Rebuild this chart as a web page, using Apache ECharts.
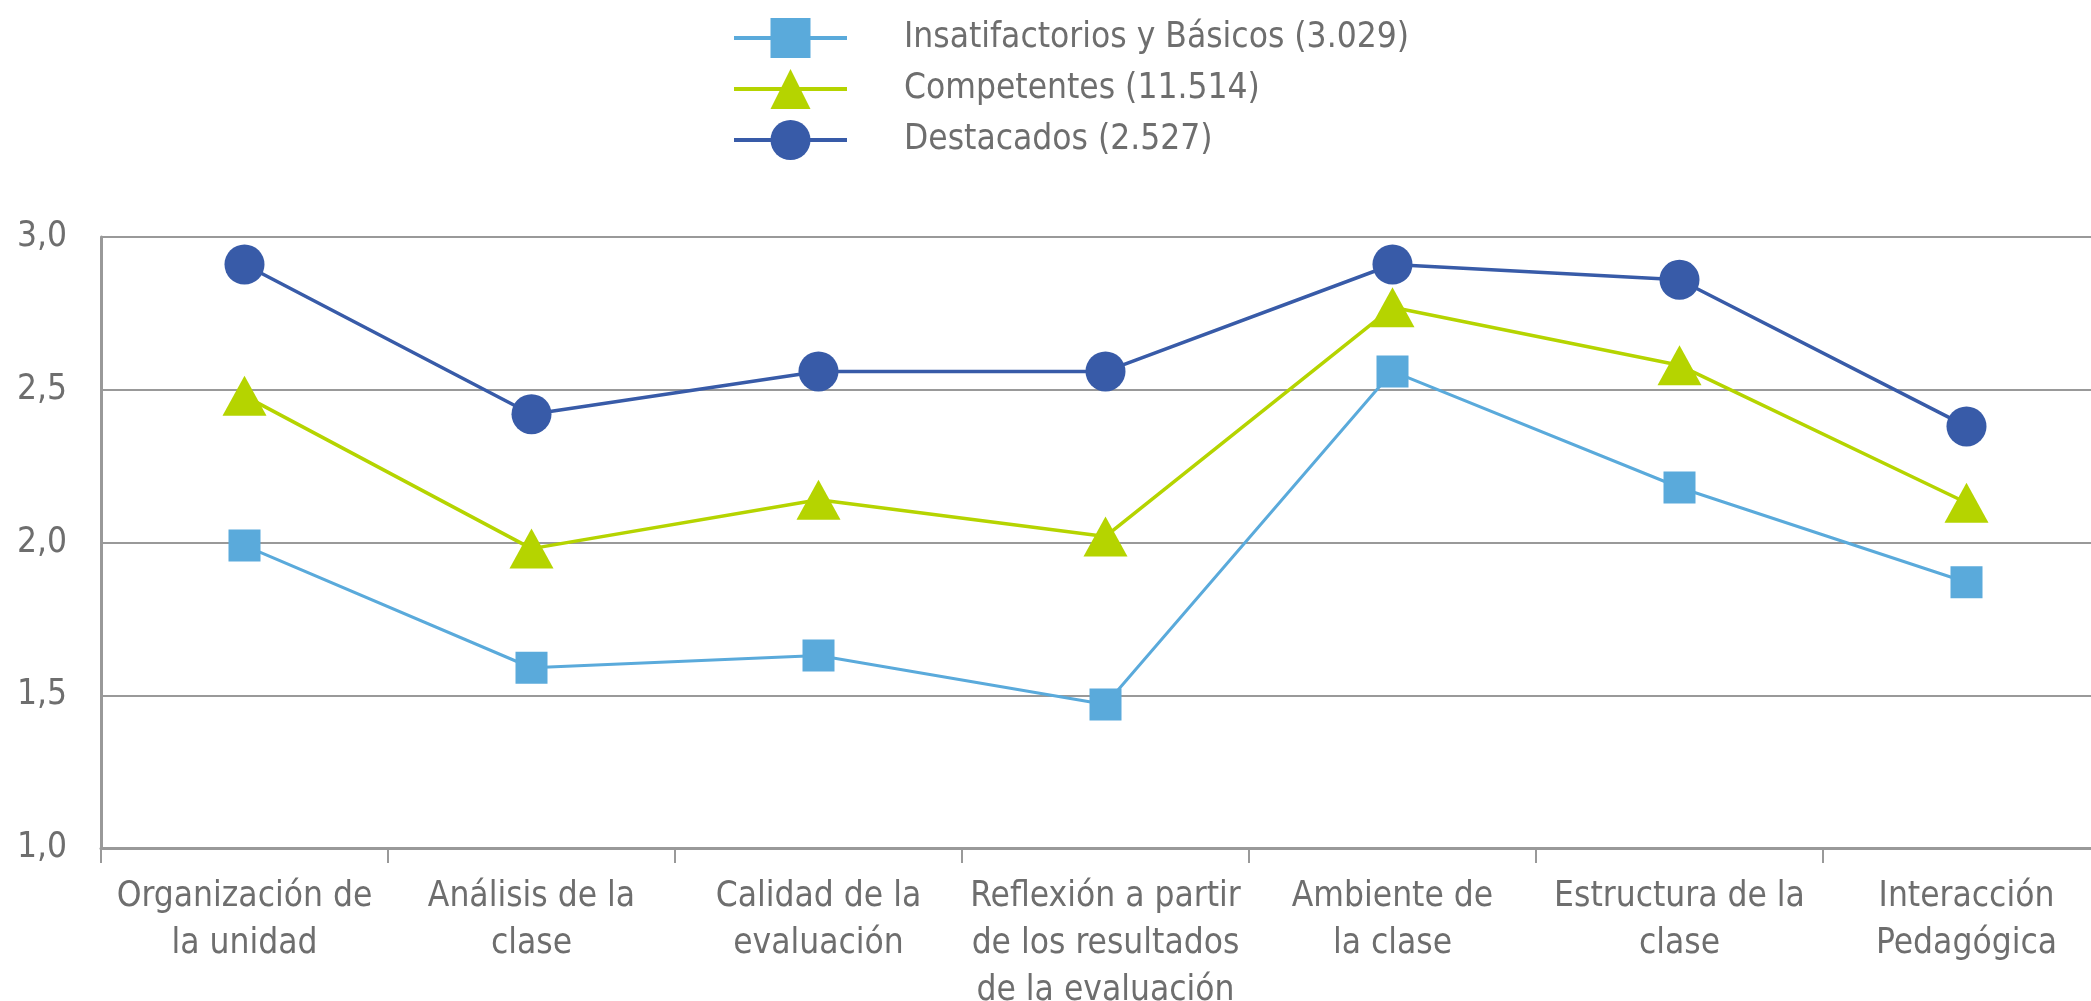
<!DOCTYPE html>
<html>
<head>
<meta charset="utf-8">
<script src="https://cdn.jsdelivr.net/npm/echarts@6/dist/echarts.min.js"></script>
<style>
  html, body { margin: 0; padding: 0; background: #fff; }
  #chart { width: 2091px; height: 1001px; }
</style>
</head>
<body>
<div id="chart"></div>
<script>
// categorias del eje x
var categorias = [
  'Organización de\nla unidad',
  'Análisis de la\nclase',
  'Calidad de la\nevaluación',
  'Reflexión a partir\nde los resultados\nde la evaluación',
  'Ambiente de\nla clase',
  'Estructura de la\nclase',
  'Interacción\nPedagógica'
]
var nombres = ['Insatifactorios y Básicos (3.029)', 'Competentes (11.514)', 'Destacados (2.527)']
var insatisfactorios = [1.99, 1.59, 1.63, 1.47, 2.56, 2.18, 1.87]
var competentes = [2.48, 1.98, 2.14, 2.02, 2.77, 2.58, 2.13]
var destacados = [2.91, 2.42, 2.56, 2.56, 2.91, 2.86, 2.38]
var ticksY = [1.0, 1.5, 2.0, 2.5, 3.0]

var fuente = '"Liberation Sans Narrow", "DejaVu Sans Condensed", "Open Sans", sans-serif'
var gris = '#6e6e6e'

var myChart = echarts.init(document.getElementById('chart'))
var option = {
  animation: false,
  textStyle: { fontFamily: fuente },
  legend: {
    orient: 'vertical',
    left: 727,
    top: 13,
    itemWidth: 113,
    itemHeight: 50,
    itemGap: 11,
    data: nombres,
    lineStyle: { width: 4 },
    textStyle: {
      color: gris,
      fontSize: 35,
      fontFamily: fuente,
      padding: [0, 0, 0, 52]
    }
  },
  grid: {
    left: 101,
    right: -19,
    top: 237,
    bottom: 153,
    outerBoundsMode: 'none'
  },
  xAxis: {
    type: 'category',
    data: categorias,
    boundaryGap: true,
    axisLine: { lineStyle: { color: '#999', width: 3 } },
    axisTick: { show: true, length: 15, lineStyle: { color: '#999', width: 2 } },
    axisLabel: {
      color: gris,
      fontSize: 35,
      lineHeight: 47,
      margin: 25,
      interval: 0
    }
  },
  yAxis: {
    type: 'value',
    min: ticksY[0],
    max: ticksY[ticksY.length - 1],
    interval: 0.5,
    axisLine: { show: true, lineStyle: { color: '#999', width: 3 } },
    axisTick: { show: false },
    axisLabel: {
      color: gris,
      fontSize: 35,
      margin: 84,
      align: 'left',
      formatter: function (v) { return v.toFixed(1).replace('.', ',') }
    },
    splitLine: { lineStyle: { color: '#999', width: 2 } }
  },
  series: [
    {
      name: nombres[0],
      type: 'line',
      data: insatisfactorios,
      symbol: 'rect',
      symbolSize: 32,
      itemStyle: { color: '#5AAADB' },
      lineStyle: { color: '#5AAADB', width: 3 }
    },
    {
      name: nombres[1],
      type: 'line',
      data: competentes,
      symbol: 'triangle',
      symbolSize: [44, 40],
      itemStyle: { color: '#B5D400' },
      lineStyle: { color: '#B5D400', width: 3.5 }
    },
    {
      name: nombres[2],
      type: 'line',
      data: destacados,
      symbol: 'circle',
      symbolSize: 40,
      itemStyle: { color: '#385BA8' },
      lineStyle: { color: '#385BA8', width: 3.5 }
    }
  ]
}
myChart.setOption(option)
</script>
</body>
</html>
